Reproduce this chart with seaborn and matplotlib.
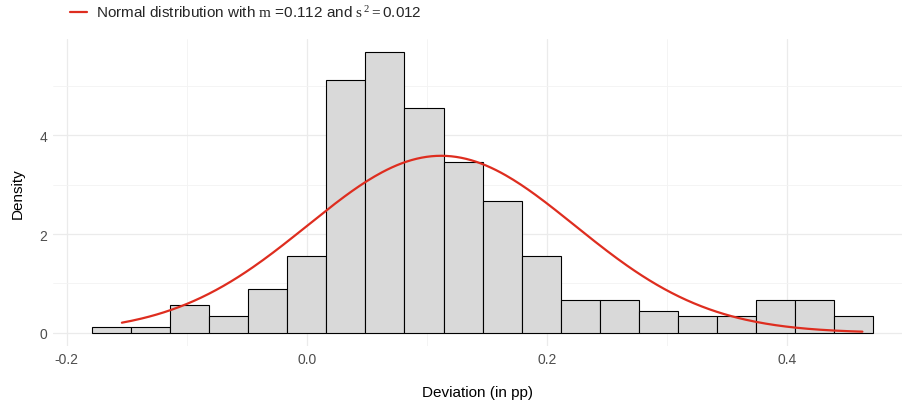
import numpy as np
import pandas as pd
import matplotlib
matplotlib.use("Agg")
import matplotlib.pyplot as plt
from matplotlib.ticker import MultipleLocator
import seaborn as sns

# histogram: bin edges and counts (n = 276)
bin_edges = [-0.1789, -0.1464, -0.1138, -0.0813, -0.0487, -0.0162, 0.0163,
             0.0489, 0.0814, 0.1140, 0.1465, 0.1790, 0.2116, 0.2441, 0.2767,
             0.3092, 0.3417, 0.3743, 0.4068, 0.4394, 0.4719]
bin_counts = [1, 1, 5, 3, 8, 14, 46, 51, 41, 31, 24, 14, 6, 6, 4, 3, 3, 6, 6, 3]

# fitted normal
mu = 0.112
sigma2 = 0.0124
x_min, x_max = -0.154, 0.463

centers = [(a + b) / 2 for a, b in zip(bin_edges[:-1], bin_edges[1:])]
df = pd.DataFrame({"dev": centers, "n": bin_counts})

xs = np.linspace(x_min, x_max, 300)
ys = np.exp(-(xs - mu) ** 2 / (2 * sigma2)) / np.sqrt(2 * np.pi * sigma2)

sns.set_theme(style="white")
plt.rcParams["font.family"] = ["Liberation Sans", "DejaVu Sans"]
plt.rcParams["mathtext.fontset"] = "custom"
plt.rcParams["mathtext.rm"] = "Liberation Serif"
plt.rcParams["mathtext.it"] = "Liberation Serif"

fig = plt.figure(figsize=(9.02, 4.06), dpi=100)
ax = fig.add_axes([53 / 902, 59 / 406, 849 / 902, 307 / 406])

ax.xaxis.set_major_locator(MultipleLocator(0.2))
ax.xaxis.set_minor_locator(MultipleLocator(0.1))
ax.yaxis.set_major_locator(MultipleLocator(2))
ax.yaxis.set_minor_locator(MultipleLocator(1))
ax.grid(which="major", color="#ebebeb", linewidth=0.9)
ax.grid(which="minor", color="#f3f3f3", linewidth=0.6)
ax.set_axisbelow(True)

sns.histplot(data=df, x="dev", weights="n", bins=bin_edges, stat="density",
             color="#d9d9d9", edgecolor="black", linewidth=0.8, alpha=1, ax=ax)

ax.plot(xs, ys, color="#de2d1f", linewidth=1.6,
        label=r"Normal distribution with $\mathrm{m}$ =0.112 and $\mathrm{s}^{\,2}=$0.012")

ax.set_xlim(-0.2114, 0.496)
ax.set_ylim(-0.265, 5.945)
for s in ax.spines.values():
    s.set_visible(False)
ax.tick_params(which="both", length=0, labelsize=10, labelcolor="#4d4d4d", pad=4)
ax.set_xticks([-0.2, 0.0, 0.2, 0.4])
ax.set_xticklabels(["-0.2", "0.0", "0.2", "0.4"])
ax.set_yticks([0, 2, 4])
ax.set_xlabel("Deviation (in pp)", fontsize=11, color="black", labelpad=14)
ax.set_ylabel("Density", fontsize=11, color="black", labelpad=11)

fig.legend(loc="center left", bbox_to_anchor=(64 / 902, 1 - 13 / 406),
           frameon=False, fontsize=11, handlelength=1.1, handletextpad=0.6,
           borderaxespad=0)

fig.savefig("out.png", dpi=100)
